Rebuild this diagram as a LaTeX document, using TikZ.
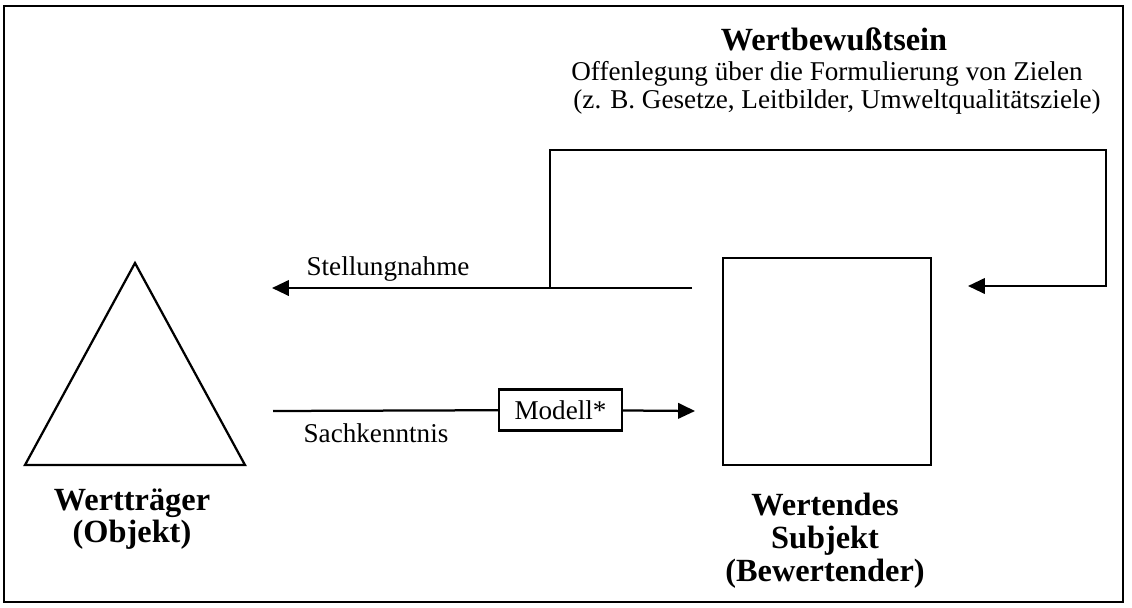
\documentclass[tikz,border=0pt]{standalone}
\usepackage{fontspec}
\setmainfont{Liberation Serif}
\usetikzlibrary{positioning}
\usetikzlibrary{arrows.meta}

\tikzset{
  pfeil/.style={line width=1.6pt,-{Triangle[length=12pt,width=11pt]}},
  linie/.style={line width=1.6pt},
  fett/.style={font=\fontsize{23}{22.5}\selectfont\bfseries,align=center},
  txt/.style={font=\fontsize{19.3}{19.8}\selectfont,align=center}
}

\begin{document}
\begin{tikzpicture}[x=0.025cm,y=-0.025cm]
      \useasboundingbox (0,0) rectangle (1132,607);
      \draw[line width=1pt] (4,6) rectangle (1123,602);

      % Kopf
      \node[fett,anchor=base] (wbw) at (834,50) {Wertbewußtsein};
      \node[txt,anchor=base] (offen) at (827,80) {Offenlegung über die Formulierung von Zielen};
      \node[txt,anchor=base] (bsp) at (837,108) {(z. B. Gesetze, Leitbilder, Umweltqualitätsziele)};

      % Werttraeger
      \draw[linie] (25,465) -- (135,263) -- (245,465) -- cycle;
      \node[fett] (objekt) at (132,519) {Wertträger\\(Objekt)};

      % Wertendes Subjekt
      \node[draw,linie,minimum width=5.2cm,minimum height=5.175cm,inner sep=0pt] (subj) at (827,361.5) {};
      \node[fett,font=\fontsize{23}{23.6}\selectfont\bfseries] (subjtxt) at (825,541) {Wertendes\\Subjekt\\(Bewertender)};

      % Stellungnahme
      \coordinate (st) at (692,288);
      \coordinate (stend) at (272,288);
      \draw[pfeil] (st) -- (stend);
      \node[txt,anchor=base] (stlab) at (388,275) {Stellungnahme};

      % Rueckkopplung
      \coordinate (fb) at (550,288);
      \coordinate (fbend) at (968,286);
      \draw[pfeil] (fb) |- (1106,150) |- (fbend);

      % Sachkenntnis
      \coordinate (sk) at (273,411);
      \coordinate (skend) at (695,411);
      \node[draw,linie,txt,minimum width=3.075cm,minimum height=1.025cm,inner sep=0pt] (modell) at (560.5,410) {Modell*};
      \draw[linie] (sk) -- (modell);
      \draw[pfeil] (modell) -- (skend);
      \node[txt,anchor=base] (sklab) at (376,442) {Sachkenntnis};
    \end{tikzpicture}
\end{document}
